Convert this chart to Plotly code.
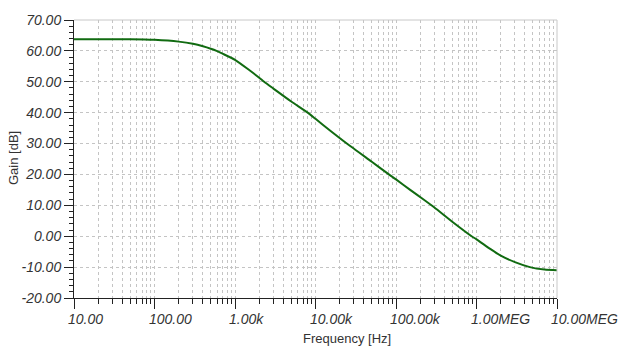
import math
import plotly.graph_objects as go

freq = [10, 50, 100, 200, 300, 400, 500, 590, 700, 1000, 1500, 2000, 2300, 3000,
        5000, 8000, 10000, 15000, 24500, 50000, 80000, 100000, 150000, 220000,
        300000, 500000, 870000, 1e6, 1.5e6, 2e6, 3e6, 4.6e6, 7e6, 1e7]
gain = [63.8, 63.8, 63.6, 63.0, 62.3, 61.5, 60.7, 60.0, 59.1, 57.1, 53.8, 51.3,
        50.0, 47.8, 43.6, 40.0, 38.0, 34.3, 30.0, 24.1, 20.2, 18.4, 15.0, 11.9,
        9.3, 4.7, 0.0, -1.0, -4.2, -6.3, -8.4, -10.0, -10.8, -11.0]

x_tickvals = [10, 100, 1000, 10000, 100000, 1e6, 1e7]
x_ticktext = ["10.00", "100.00", "1.00k", "10.00k", "100.00k", "1.00MEG", "10.00MEG"]
y_tickvals = [70, 60, 50, 40, 30, 20, 10, 0, -10, -20]
y_ticktext = ["70.00", "60.00", "50.00", "40.00", "30.00", "20.00", "10.00",
              "0.00", "-10.00", "-20.00"]

FONT = "Liberation Sans, Arial, sans-serif"
GRID = "#c4c4c4"
DASH = "3px,3px"

fig = go.Figure()
fig.add_trace(go.Scatter(x=freq, y=gain, mode="lines",
                         line=dict(color="#116b11", width=2, shape="spline", smoothing=0.6),
                         hoverinfo="skip"))

fig.update_layout(
    width=619, height=355,
    margin=dict(l=74, r=62, t=18, b=57),
    paper_bgcolor="white", plot_bgcolor="white",
    showlegend=False,
    font=dict(family=FONT, color="#222"),
)

fig.update_xaxes(
    type="log", range=[1, 7],
    tickvals=x_tickvals, ticktext=["" for _ in x_ticktext],
    showline=True, linecolor="#222", linewidth=1,
    ticks="outside", ticklen=10, tickcolor="#222", tickwidth=1,
    showgrid=True, gridcolor=GRID, griddash=DASH, gridwidth=1,
    minor=dict(dtick="D1", ticks="outside", ticklen=5, tickcolor="#222",
               showgrid=True, gridcolor=GRID, griddash=DASH, gridwidth=1),
    zeroline=False,
)

fig.update_yaxes(
    range=[-20, 70],
    tickvals=y_tickvals, ticktext=y_ticktext,
    tickfont=dict(family=FONT, size=14, color="#333", style="italic"),
    showline=True, linecolor="#222", linewidth=1,
    ticks="outside", ticklen=9, tickcolor="#222", tickwidth=1,
    showgrid=True, gridcolor=GRID, griddash=DASH, gridwidth=1,
    minor=dict(dtick=2, ticks="outside", ticklen=4, tickcolor="#222", showgrid=False),
    zeroline=False,
)

# light border top and right
fig.add_shape(type="line", xref="paper", yref="paper", x0=0, x1=1, y0=1, y1=1,
              line=dict(color="#c8c8c8", width=1))
fig.add_shape(type="line", xref="paper", yref="paper", x0=1, x1=1, y0=0, y1=1,
              line=dict(color="#c8c8c8", width=1))

for v, t in zip(x_tickvals, x_ticktext):
    fig.add_annotation(x=math.log10(v), xref="x", y=0, yref="paper", text=t, showarrow=False,
                       xanchor="left", yanchor="top", xshift=-8, yshift=-11,
                       font=dict(family=FONT, size=14, color="#333", style="italic"))

fig.add_annotation(x=(347 - 74) / (557 - 74), xref="paper", y=0, yref="paper",
                   text="Frequency [Hz]", showarrow=False, xanchor="center",
                   yanchor="middle", yshift=-(338 - 298),
                   font=dict(family=FONT, size=13, color="#333"))
fig.add_annotation(x=-(74 - 13) / (557 - 74), xref="paper", y=(298 - 157) / (298 - 18),
                   yref="paper", text="Gain [dB]", showarrow=False, textangle=-90,
                   xanchor="center", yanchor="middle",
                   font=dict(family=FONT, size=13, color="#333"))

fig.write_html("out.html")
